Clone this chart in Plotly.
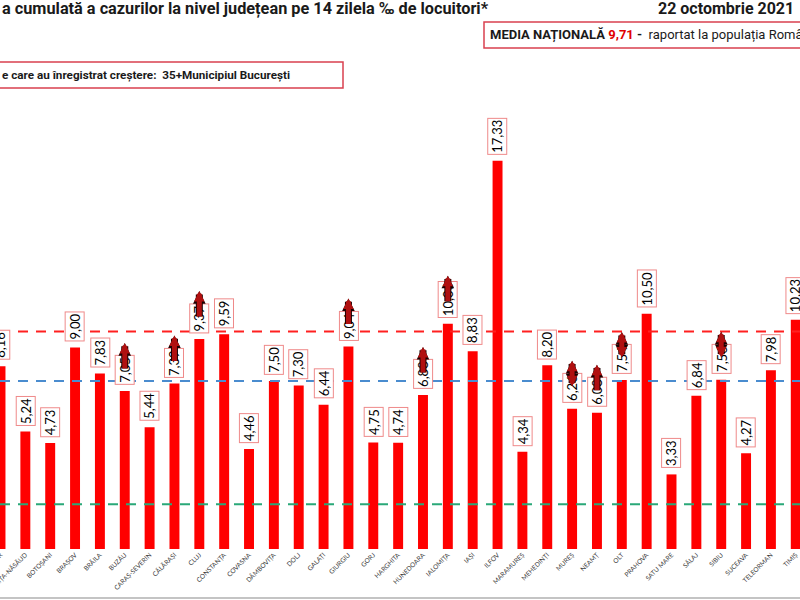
import plotly.graph_objects as go

# ---------------- data ----------------
counties = ["BIHOR", "BISTRIȚA-NĂSĂUD", "BOTOȘANI", "BRAȘOV", "BRĂILA", "BUZĂU",
            "CARAȘ-SEVERIN", "CĂLĂRAȘI", "CLUJ", "CONSTANȚA", "COVASNA", "DÂMBOVIȚA",
            "DOLJ", "GALAȚI", "GIURGIU", "GORJ", "HARGHITA", "HUNEDOARA", "IALOMIȚA",
            "IAȘI", "ILFOV", "MARAMUREȘ", "MEHEDINȚI", "MUREȘ", "NEAMȚ", "OLT",
            "PRAHOVA", "SATU MARE", "SĂLAJ", "SIBIU", "SUCEAVA", "TELEORMAN", "TIMIȘ"]
incidence = [8.16, 5.24, 4.73, 9.00, 7.83, 7.05,
             5.44, 7.39, 9.37, 9.59, 4.46, 7.50,
             7.30, 6.44, 9.04, 4.75, 4.74, 6.88, 10.06,
             8.83, 17.33, 4.34, 8.20, 6.26, 6.08, 7.54,
             10.50, 3.33, 6.84, 7.56, 4.27, 7.98, 10.23]
rising_up = ["BUZĂU", "CĂLĂRAȘI", "CLUJ", "GIURGIU", "HUNEDOARA", "IALOMIȚA", "NEAMȚ"]
rising_both = ["MUREȘ", "OLT", "SIBIU"]
national_avg = 9.71
threshold_blue = 7.5
threshold_green = 2.0

title_text = "a cumulată a cazurilor la nivel județean pe 14 zilela ‰ de locuitori*"
date_text = "22 octombrie 2021"
growth_text = "e care au înregistrat creștere:  35+Municipiul București"

# ---------------- layout helpers ----------------
W, H = 800, 600
M_T, M_B = 101, 51
PLOT_H = H - M_T - M_B


def py(pix):
    return (H - M_B - pix) / PLOT_H


def px(pix):
    return pix / W


HEAD = "Roboto, Arial, sans-serif"
LBL = "Lato, Carlito, Calibri, sans-serif"

fig = go.Figure()
fig.add_trace(go.Bar(x=counties, y=incidence, marker=dict(color="#ff0000", line=dict(width=0)),
                     hoverinfo="x+y"))

annotations = []
for name, v in zip(counties, incidence):
    annotations.append(dict(
        x=name, y=v, xref="x", yref="y", text=f"{v:.2f}".replace(".", ","),
        showarrow=False, yanchor="bottom", yshift=6, textangle=-90,
        font=dict(family=LBL, size=13, color="#000000"),
        bgcolor="#ffffff", bordercolor="#ef8a8a", borderwidth=1, borderpad=1))

for name, v in zip(counties, incidence):
    if name in rising_up or name in rising_both:
        both = name in rising_both
        for color, width, size in (("#1a0000", 7, 0.36), ("#b01010", 5, 0.42)):
            annotations.append(dict(
                x=name, y=v, xref="x", yref="y", text="", showarrow=True,
                ax=0, ay=27, yshift=48, arrowhead=2, arrowsize=size, arrowwidth=width,
                arrowcolor=color,
                arrowside="end+start" if both else "end",
                startarrowhead=2, startarrowsize=size))

annotations += [
    dict(xref="paper", yref="paper", x=0, y=py(8.5), xanchor="left", yanchor="middle",
         text=f"<b>{title_text}</b>", showarrow=False,
         font=dict(family=HEAD, size=16.3, color="#1a1a1a")),
    dict(xref="paper", yref="paper", x=px(796), y=py(8.5), xanchor="right", yanchor="middle",
         text=f"<b>{date_text}</b>", showarrow=False,
         font=dict(family=HEAD, size=16, color="#1a1a1a")),
    dict(xref="paper", yref="paper", x=px(488), y=py(35), xanchor="left", yanchor="middle",
         text=(f"<b>MEDIA NAȚIONALĂ <span style='color:#e00000'>"
               f"{f'{national_avg:.2f}'.replace('.', ',')}</span> -</b>  "
               "raportat la populația României"),
         showarrow=False, font=dict(family=HEAD, size=13, color="#1a1a1a")),
    dict(xref="paper", yref="paper", x=0, y=py(75), xanchor="left", yanchor="middle",
         text=f"<b>{growth_text}</b>", showarrow=False,
         font=dict(family=HEAD, size=11.7, color="#1a1a1a")),
]

shapes = [
    dict(type="line", xref="paper", yref="y", x0=0, x1=1, y0=national_avg, y1=national_avg,
         line=dict(color="#ff2020", width=2, dash="10px,8px"), layer="above"),
    dict(type="line", xref="paper", yref="y", x0=0, x1=1, y0=threshold_blue, y1=threshold_blue,
         line=dict(color="#4a8ccf", width=2, dash="10px,8px"), layer="above"),
    dict(type="line", xref="paper", yref="y", x0=0, x1=1, y0=threshold_green, y1=threshold_green,
         line=dict(color="#2aa878", width=2, dash="10px,8px"), layer="above"),
    dict(type="rect", xref="paper", yref="paper", x0=px(484), x1=px(815), y0=py(48), y1=py(22),
         line=dict(color="#d9404f", width=1.5), fillcolor="rgba(0,0,0,0)"),
    dict(type="rect", xref="paper", yref="paper", x0=px(-10), x1=px(343), y0=py(88), y1=py(62),
         line=dict(color="#d9404f", width=1.5), fillcolor="rgba(0,0,0,0)"),
    dict(type="line", xref="paper", yref="paper", x0=0, x1=1, y0=py(598), y1=py(598),
         line=dict(color="#c4c4c4", width=2)),
]

fig.update_layout(
    width=W, height=H, margin=dict(l=0, r=0, t=M_T, b=M_B, autoexpand=False),
    paper_bgcolor="#ffffff", plot_bgcolor="#ffffff",
    bargap=0.6, showlegend=False,
    annotations=annotations, shapes=shapes,
    xaxis=dict(type="category", range=[-0.02, 32.17], tickangle=-45, showgrid=False,
               showline=False, ticks="", zeroline=False, automargin=False,
               tickfont=dict(family=LBL, size=6.5, color="#3a3a3a")),
    yaxis=dict(range=[0, 20], visible=False, showgrid=False, zeroline=False,
               automargin=False),
)

fig.write_html(
    "out.html",
    config={"displayModeBar": False},
    post_script="document.body.style.margin='0';document.body.style.padding='0';"
                "document.body.style.overflow='hidden';",
)
